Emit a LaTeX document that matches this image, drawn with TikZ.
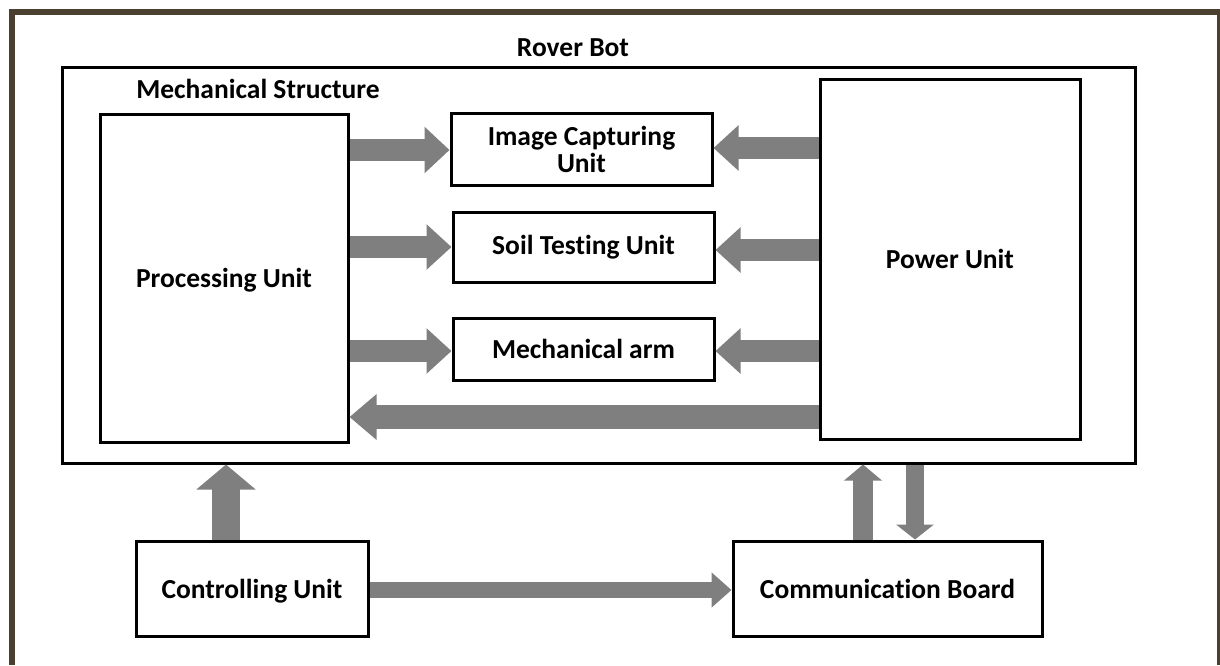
\documentclass[tikz,border=0pt]{standalone}
\usepackage{fontspec}
\setmainfont{Carlito}[Ligatures=NoCommon]
\usetikzlibrary{arrows.meta}
\definecolor{framebrown}{HTML}{4B3F2F}
\definecolor{blockgray}{HTML}{7F7F7F}
\tikzset{
  box/.style={draw=black, line width=3pt, inner sep=0pt,
              font=\fontsize{27.5}{28}\selectfont\bfseries},
  lowtext/.style={text height=24pt, text depth=5pt},
  label/.style={inner sep=0pt, font=\fontsize{27.5}{28}\selectfont\bfseries},
  blk/.style={draw=blockgray, line width=#1},
  blk/.default=22pt,
}
\begin{document}
\begin{tikzpicture}[x=1pt, y=-1pt]
  % canvas and outer frame
  \fill[white] (0,0) rectangle (1220,665);
  \useasboundingbox (0,0) rectangle (1220,665);
  \fill[framebrown] (9,9) rectangle (1219,15);
  \fill[framebrown] (9,9) rectangle (15,665);
  \fill[framebrown] (1217,9) rectangle (1220,665);

  % rover enclosure and its labels
  \node[box, minimum width=1073pt, minimum height=396pt] (rover) at (598.5,265) {};
  \node[label] (rovertitle) at (573,48) {Rover Bot};
  \node[label] (mechtitle) at (258,89) {Mechanical Structure};

  % units inside the rover
  \node[box, lowtext, minimum width=248pt, minimum height=328pt] (proc) at (224,278) {Processing Unit};
  \node[box, align=center, minimum width=261pt, minimum height=72pt] (img) at (581.5,149) {Image Capturing\\[-1pt]Unit};
  \node[box, minimum width=261pt, minimum height=70pt] (soil) at (583.5,247) {Soil Testing Unit};
  \node[box, minimum width=261pt, minimum height=62pt] (arm) at (583.5,349) {Mechanical arm};
  \node[box, minimum width=260pt, minimum height=360pt] (power) at (950,259) {Power Unit};

  % units outside the rover
  \node[box, lowtext, minimum width=232pt, minimum height=95pt] (ctrl) at (252,588.5) {Controlling Unit};
  \node[box, minimum width=309pt, minimum height=95pt] (comm) at (887.5,588.5) {Communication Board};

  % processing unit to the peripherals
  \draw[blk, -{Triangle[width=45pt, length=25pt]}] (proc.east |- 0,150) -- (img.west |- 0,150);
  \draw[blk, -{Triangle[width=44pt, length=25pt]}] (proc.east |- 0,247) -- (soil.west |- 0,247);
  \draw[blk, -{Triangle[width=44pt, length=25pt]}] (proc.east |- 0,351) -- (arm.west |- 0,351);

  % power unit feeding everything
  \draw[blk, -{Triangle[width=44pt, length=25pt]}] (power.west |- 0,148) -- (img.east |- 0,148);
  \draw[blk, -{Triangle[width=44pt, length=25pt]}] (power.west |- 0,250) -- (soil.east |- 0,250);
  \draw[blk, -{Triangle[width=44pt, length=25pt]}] (power.west |- 0,351) -- (arm.east |- 0,351);
  \draw[blk=24pt, -{Triangle[width=44pt, length=27pt]}] (power.west |- 0,417) -- (proc.east |- 0,417);

  % links below the rover
  \draw[blk=28pt, -{Triangle[width=58pt, length=25pt]}] (ctrl.north -| 226,0) -- (rover.south -| 226,0);
  \draw[blk=20pt, -{Triangle[width=37pt, length=16pt]}] (comm.north -| 863,0) -- (rover.south -| 863,0);
  \draw[blk=18pt, -{Triangle[width=37pt, length=15pt]}] (rover.south -| 915,0) -- (comm.north -| 915,0);
  \draw[blk=16pt, -{Triangle[width=34pt, length=20pt]}] (ctrl.east |- 0,590) -- (comm.west |- 0,590);
\end{tikzpicture}
\end{document}
